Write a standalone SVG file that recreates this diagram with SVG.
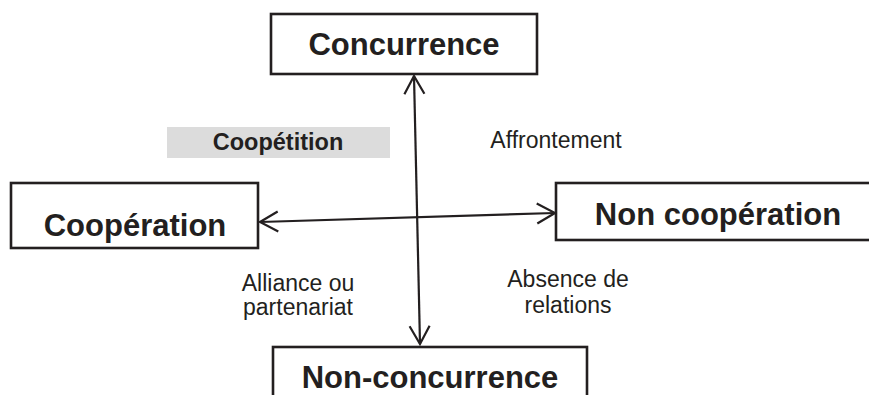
<svg xmlns="http://www.w3.org/2000/svg" width="869" height="395" viewBox="0 0 869 395">
<style>
.box{fill:#fff;stroke:#231f20;stroke-width:2.6}
.h{font-family:"Liberation Sans",Arial,sans-serif;font-weight:bold;font-size:31px;fill:#231f20;text-anchor:middle}
.l{font-family:"Liberation Sans",Arial,sans-serif;font-size:23px;fill:#231f20;text-anchor:middle}
.conn{stroke:#231f20;stroke-width:2.2;fill:none}
</style>
<defs>
<marker id="arr" markerUnits="userSpaceOnUse" viewBox="-20 -12 24 24" refX="0" refY="0" markerWidth="24" markerHeight="24" orient="auto-start-reverse">
<path d="M-18,-10 L0,0 L-18,10" fill="none" stroke="#231f20" stroke-width="2.2"/>
</marker>
</defs>
<rect width="869" height="395" fill="#fff"/>
<g id="coopetition">
<rect x="167" y="127" width="223" height="31" fill="#dcdcdc"/>
<text x="278" y="150" class="h" style="font-size:23.5px">Coopétition</text>
</g>
<g id="concurrence">
<rect class="box" x="271" y="14" width="266" height="60"/>
<text x="404" y="55" class="h">Concurrence</text>
</g>
<g id="cooperation">
<rect class="box" x="11" y="183" width="247" height="65"/>
<text x="135" y="236" class="h">Coopération</text>
</g>
<g id="non-cooperation">
<rect class="box" x="556" y="183" width="330" height="57"/>
<text x="718" y="225" class="h">Non coopération</text>
</g>
<g id="non-concurrence">
<rect class="box" x="273" y="347" width="314" height="60"/>
<text x="430" y="388" class="h">Non-concurrence</text>
</g>
<g id="connectors">
<line class="conn" x1="414" y1="76" x2="420" y2="344" marker-start="url(#arr)" marker-end="url(#arr)"/>
<line class="conn" x1="260" y1="222" x2="555" y2="213" marker-start="url(#arr)" marker-end="url(#arr)"/>
</g>
<g id="labels">
<text x="556" y="148" class="l">Affrontement</text>
<text x="298" y="291" class="l">Alliance ou</text>
<text x="298" y="315" class="l">partenariat</text>
<text x="568" y="287" class="l">Absence de</text>
<text x="568" y="313" class="l">relations</text>
</g>
</svg>
